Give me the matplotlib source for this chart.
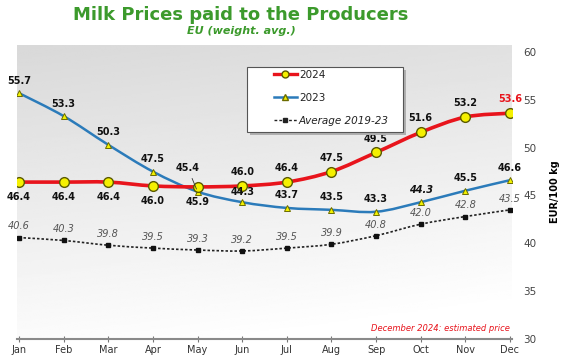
import matplotlib
matplotlib.use("Agg")
import matplotlib.pyplot as plt
import numpy as np
from matplotlib.path import Path
from matplotlib.patches import PathPatch, Rectangle

months = ["Jan", "Feb", "Mar", "Apr", "May", "Jun", "Jul", "Aug", "Sep", "Oct", "Nov", "Dec"]
prices_2024 = [46.4, 46.4, 46.4, 46.0, 45.9, 46.0, 46.4, 47.5, 49.5, 51.6, 53.2, 53.6]
prices_2023 = [55.7, 53.3, 50.3, 47.5, 45.4, 44.3, 43.7, 43.5, 43.3, 44.3, 45.5, 46.6]
avg_2019_23 = [40.6, 40.3, 39.8, 39.5, 39.3, 39.2, 39.5, 39.9, 40.8, 42.0, 42.8, 43.5]

GREEN = "#3c9a2c"
RED = "#e8141c"
BLUE = "#2b7bba"


def smooth_path(x, y):
    # excel-like smoothed line: cubic bezier through every point
    pts = np.column_stack([x, y]).astype(float)
    verts = [pts[0]]
    codes = [Path.MOVETO]
    n = len(pts)
    for i in range(n - 1):
        p0 = pts[i - 1] if i > 0 else pts[i]
        p1 = pts[i]
        p2 = pts[i + 1]
        p3 = pts[i + 2] if i + 2 < n else pts[i + 1]
        c1 = p1 + (p2 - p0) / 6.0
        c2 = p2 - (p3 - p1) / 6.0
        verts += [c1, c2, p2]
        codes += [Path.CURVE4] * 3
    return Path(verts, codes)


x = np.arange(len(months))

fig = plt.figure(figsize=(5.69, 3.58), dpi=100)
ax = fig.add_axes([17 / 569, 1 - 339 / 358, 495 / 569, 294 / 358])

ax.set_xlim(-0.045, 11.045)
ax.set_ylim(30, 60.73)

# grey gradient background, darker at the top
grad = np.linspace(0.85, 0.985, 200).reshape(-1, 1) * np.ones((1, 50))
grad = grad + np.linspace(0.0, 0.03, 50).reshape(1, -1)
grad = np.clip(grad, 0, 1)
ax.imshow(grad, cmap="gray", vmin=0, vmax=1, extent=[-0.045, 11.045, 30, 60.73],
          aspect="auto", origin="upper", zorder=0)

# lines
ax.add_patch(PathPatch(smooth_path(x, avg_2019_23), fill=False, color="#222222",
                       lw=1.2, ls=(0, (1.5, 1.2)), zorder=2))
ax.plot(x, avg_2019_23, ls="none", marker="s", ms=3.2, color="#111111", zorder=3)

ax.add_patch(PathPatch(smooth_path(x, prices_2023), fill=False, color=BLUE, lw=1.8, zorder=4))
ax.plot(x, prices_2023, ls="none", marker="^", ms=5, mfc="#f2f200", mec="#6b6b00", mew=0.7, zorder=5)

ax.add_patch(PathPatch(smooth_path(x, prices_2024), fill=False, color=RED, lw=2.6, zorder=6))
ax.plot(x, prices_2024, ls="none", marker="o", ms=7, mfc="#f5f000", mec="#5a5a00", mew=1.0, zorder=7)

# data labels
lab = dict(fontsize=7, fontweight="bold", ha="center", va="center", textcoords="offset points", zorder=8)
for i, v in enumerate(prices_2024):
    dy = -11 if i <= 4 else 10
    col = RED if i == 11 else "#111111"
    ax.annotate(f"{v:.1f}", (x[i], v), xytext=(0, dy), color=col, **lab)

for i, v in enumerate(prices_2023):
    if i == 4:
        ax.annotate(f"{v:.1f}", (x[i], v), xytext=(-7, 17), color="#111111",
                    arrowprops=dict(arrowstyle="-", color="#333333", lw=0.6, shrinkA=2, shrinkB=2), **lab)
    elif i == 5:
        ax.annotate(f"{v:.1f}", (x[i], v), xytext=(0, 7), color="#111111", **lab)
    elif i == 9:
        ax.annotate(f"{v:.1f}", (x[i], v), xytext=(0, 9), color="#111111", fontstyle="italic", **lab)
    else:
        ax.annotate(f"{v:.1f}", (x[i], v), xytext=(0, 9), color="#111111", **lab)

for i, v in enumerate(avg_2019_23):
    ax.annotate(f"{v:.1f}", (x[i], v), xytext=(0, 8), textcoords="offset points",
                fontsize=7, fontstyle="italic", color="#555555", ha="center", va="center", zorder=8)

# axes styling
for s in ["left", "top", "right"]:
    ax.spines[s].set_visible(False)
ax.spines["bottom"].set_color("#8a8a8a")
ax.spines["bottom"].set_linewidth(1.5)
ax.set_xticks(x)
ax.set_xticklabels(months)
ax.tick_params(axis="x", direction="inout", length=4, color="#777777", labelsize=7,
               labelcolor="#333333", pad=2)
ax.yaxis.tick_right()
ax.set_yticks([30, 35, 40, 45, 50, 55, 60])
ax.tick_params(axis="y", length=0, labelsize=7.5, labelcolor="#444444", pad=8)
ax.yaxis.set_label_position("right")
ax.set_ylabel("EUR/100 kg", fontsize=7, fontweight="bold", labelpad=10)

ax.text(11.0, 31.1, "December 2024: estimated price", fontsize=6, fontstyle="italic",
        color="#e8141c", ha="right", va="center", zorder=8)

# titles
fig.text(241 / 569, 1 - 15 / 358, "Milk Prices paid to the Producers", fontsize=13,
         fontweight="bold", color=GREEN, ha="center", va="center")
fig.text(241 / 569, 1 - 31 / 358, "EU (weight. avg.)", fontsize=8, fontweight="bold",
         fontstyle="italic", color=GREEN, ha="center", va="center")

# legend box
fig.patches.append(Rectangle((250 / 569, 1 - 135 / 358), 156 / 569, 65 / 358,
                             transform=fig.transFigure, facecolor="#b0b0b0", edgecolor="none", zorder=9))
fig.patches.append(Rectangle((247 / 569, 1 - 132 / 358), 156 / 569, 65 / 358,
                             transform=fig.transFigure, facecolor="white", edgecolor="#555555",
                             lw=0.8, zorder=10))
h24, = ax.plot([], [], color=RED, lw=2.4, marker="o", ms=5, mfc="#f5f000", mec="#5a5a00")
h23, = ax.plot([], [], color=BLUE, lw=1.8, marker="^", ms=4, mfc="#f2f200", mec="#6b6b00")
hav, = ax.plot([], [], color="#222222", lw=1.0, ls=(0, (2, 1.5)), marker="s", ms=3)
leg = fig.legend([h24, h23, hav], ["2024", "2023", "Average 2019-23"], loc="upper left",
                 bbox_to_anchor=(274 / 569, 1 - 70 / 358), frameon=False, fontsize=7.5,
                 borderpad=0, borderaxespad=0, handlelength=2.2, handletextpad=0.2,
                 labelspacing=1.25)
leg.set_zorder(11)
leg.get_texts()[2].set_fontstyle("italic")
for t in leg.get_texts():
    t.set_color("#222222")

fig.savefig("out.png", dpi=100)
